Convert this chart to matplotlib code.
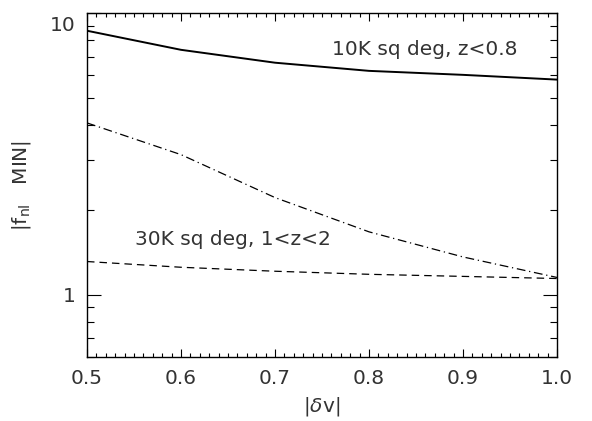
import numpy as np
import matplotlib
matplotlib.use("Agg")
import matplotlib.pyplot as plt
from matplotlib.ticker import FixedLocator, MultipleLocator, FixedFormatter
from matplotlib.transforms import ScaledTranslation

plt.rcParams["font.family"] = ["DejaVu Sans"]
plt.rcParams["mathtext.fontset"] = "dejavusans"

# |delta v| grid
dv = [0.5, 0.6, 0.7, 0.8, 0.9, 1.0]
# |f_nl MIN| for the three cases
fnl_10k = [8.65, 7.4, 6.66, 6.23, 6.03, 5.8]
fnl_dashdot = [4.07, 3.14, 2.21, 1.67, 1.36, 1.15]
fnl_30k = [1.31, 1.25, 1.21, 1.18, 1.16, 1.14]

txt = "#333333"

fig = plt.figure(figsize=(5.92, 4.21), dpi=100)
ax = fig.add_axes([87 / 592, 1 - 357 / 421, 470 / 592, 344 / 421])

ax.plot(dv, fnl_10k, color="black", lw=1.4, ls="-")
ax.plot(dv, fnl_dashdot, color="black", lw=0.9, ls=(0, (7, 3, 1, 3)))
ax.plot(dv, fnl_30k, color="black", lw=0.9, ls=(0, (6, 4)))

ax.set_yscale("log")
ax.set_xlim(0.5, 1.0)
ax.set_ylim(0.6, 10)

ax.xaxis.set_major_locator(MultipleLocator(0.1))
ax.xaxis.set_minor_locator(MultipleLocator(0.01))
ax.yaxis.set_major_locator(FixedLocator([1, 10]))
ax.yaxis.set_major_formatter(FixedFormatter(["1", "10"]))
ax.yaxis.set_minor_locator(FixedLocator([0.6, 0.7, 0.8, 0.9, 2, 3, 4, 5, 6, 7, 8, 9]))
ax.yaxis.set_minor_formatter(FixedFormatter([""] * 12))

ax.tick_params(which="both", direction="in", top=True, right=True,
               labelsize=14.5, labelcolor=txt, width=0.8)
ax.tick_params(axis="y", which="major", length=10, pad=8)
ax.tick_params(axis="y", which="minor", length=5)
ax.tick_params(axis="x", which="minor", length=3)
ax.tick_params(axis="x", which="major", length=6, pad=9)
for s in ax.spines.values():
    s.set_linewidth(1.0)

# the top label sits a little below its tick, as in the original
fig.canvas.draw()
lab = ax.get_yticklabels()[1]
lab.set_transform(lab.get_transform() + ScaledTranslation(0, -0.10, fig.dpi_scale_trans))

ax.text(0.7606, 7.4, "10K sq deg, z<0.8", fontsize=14.5, color=txt,
        va="center", ha="left")
ax.text(0.551, 1.57, "30K sq deg, 1<z<2", fontsize=14.5, color=txt,
        va="center", ha="left")

ax.set_xlabel(r"|$\delta$v|", fontsize=14.5, color=txt, labelpad=5)
ax.set_ylabel(r"|f$_{\rm nl}$   MIN|", fontsize=14.5, color=txt, labelpad=12)

fig.savefig("out.png", dpi=100)
